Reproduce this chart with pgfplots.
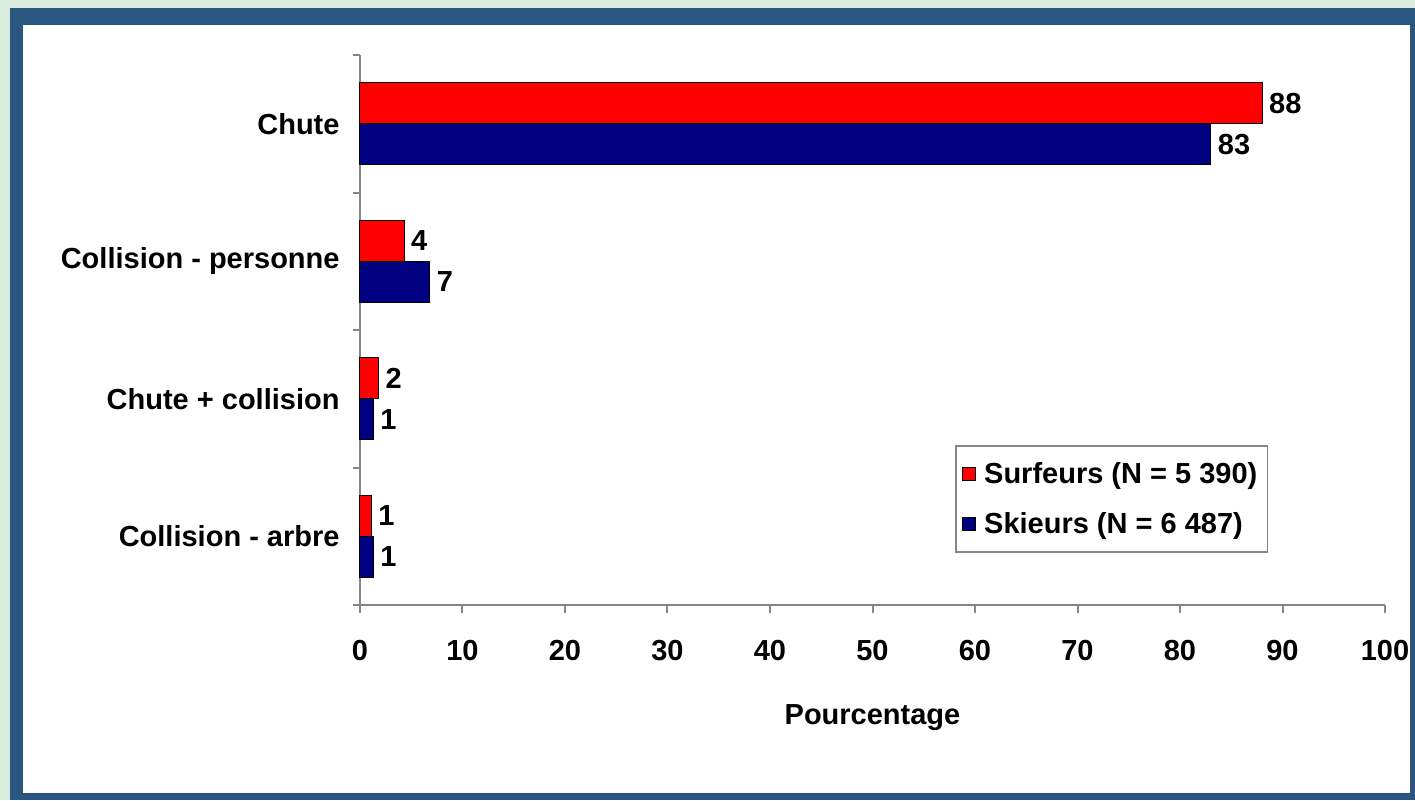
\documentclass[border=0pt]{standalone}
\usepackage{fontspec}
\setmainfont{Liberation Sans}
\usepackage{pgfplots}
\pgfplotsset{compat=1.18}

\definecolor{bgreen}{HTML}{D9EBDA}
\definecolor{frameblue}{HTML}{2B5680}
\definecolor{surf}{HTML}{FF0000}
\definecolor{ski}{HTML}{000080}
\definecolor{axgray}{HTML}{868686}
\newcommand{\lab}{\fontsize{14.5}{17}\selectfont\bfseries}

\begin{document}
\begin{tikzpicture}
\useasboundingbox (0,0) rectangle (707.5pt,400pt);
% fond et cadre
\fill[bgreen] (0,0) rectangle (707.5pt,400pt);
\fill[frameblue] (5pt,0) rectangle (707.5pt,396pt);
\fill[white] (11.5pt,3.5pt) rectangle (705pt,387.5pt);

\begin{axis}[
  at={(180pt,97.5pt)}, anchor=south west,
  scale only axis, width=512.5pt, height=275pt,
  xbar, bar width=20.5pt,
  xmin=0, xmax=100, ymin=-0.5, ymax=3.5,
  axis lines*=left,
  axis line style={draw=axgray, line width=1pt},
  clip=false,
  tick align=outside,
  major tick length=4pt,
  xtick={0,10,...,100},
  xtick style={draw=axgray, line width=1pt},
  ytick={0,1,2,3},
  yticklabels={Collision - arbre, Chute + collision, Collision - personne, Chute},
  ytick style={draw=none},
  extra y ticks={-0.5,0.5,1.5,2.5,3.5},
  extra y tick labels={},
  extra y tick style={ytick style={draw=axgray, line width=1pt}, major tick length=3.5pt},
  /pgf/number format/assume math mode=true,
  tick label style={font=\lab},
  yticklabel style={xshift=-2.7pt},
  xticklabel style={yshift=-10pt},
  xlabel={Pourcentage},
  xlabel style={font=\lab, at={(axis description cs:0.5,0)}, anchor=north, yshift=-46pt},
  nodes near coords={\pgfmathprintnumber[fixed,precision=0]{\pgfplotspointmeta}},
  nodes near coords style={font=\lab, anchor=west},
  legend cell align=left,
  legend style={at={(0.886,0.0945)}, anchor=south east, draw=axgray, line width=0.8pt,
    font=\lab, row sep=9pt, inner xsep=3pt, inner ysep=6pt,
    /tikz/every odd column/.append style={column sep=2pt}},
]
\addplot[fill=surf, draw=black, line width=0.5pt, bar shift=10.25pt,
  legend image code/.code={\draw[fill=surf, draw=black, line width=0.5pt] (0pt,-3.2pt) rectangle (6.5pt,3.2pt);}]
  coordinates {(1.1,0) (1.8,1) (4.3,2) (88,3)};
\addplot[fill=ski, draw=black, line width=0.5pt, bar shift=-10.25pt,
  legend image code/.code={\draw[fill=ski, draw=black, line width=0.5pt] (0pt,-3.2pt) rectangle (6.5pt,3.2pt);}]
  coordinates {(1.3,0) (1.3,1) (6.8,2) (83,3)};
\legend{Surfeurs (N = 5 390), Skieurs (N = 6 487)}
\end{axis}
\end{tikzpicture}
\end{document}
